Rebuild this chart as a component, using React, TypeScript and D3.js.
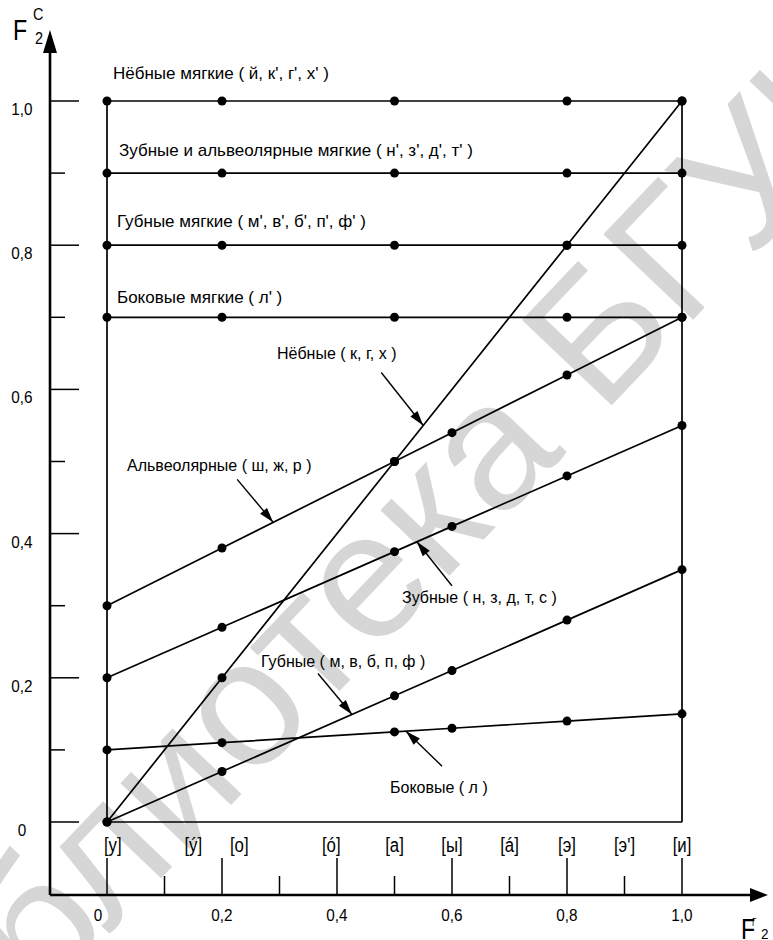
import React from 'react';
import * as d3 from 'd3';

// ---------- data ----------
const xTickValues = [0, 0.1, 0.2, 0.3, 0.4, 0.5, 0.6, 0.7, 0.8, 0.9, 1.0];
const xTickLabelValues = [0, 0.2, 0.4, 0.6, 0.8, 1.0];
const xTickLabels = ['0', '0,2', '0,4', '0,6', '0,8', '1,0'];
const yTickValues = [0, 0.1, 0.2, 0.3, 0.4, 0.5, 0.6, 0.7, 0.8, 0.9, 1.0];
const yTickLabelValues = [0, 0.2, 0.4, 0.6, 0.8, 1.0];
const yTickLabels = ['0', '0,2', '0,4', '0,6', '0,8', '1,0'];

const vowelLabels = ['[у]', '[ý]', '[о]', '[ó]', '[а]', '[ы]', '[á]', '[э]', "[э']", '[и]'];
const vowelPositions = [0.01, 0.15, 0.23, 0.39, 0.5, 0.6, 0.7, 0.8, 0.9, 1.0];

const softNames = [
  "Нёбные мягкие ( й, к', г', х' )",
  "Зубные и альвеолярные мягкие ( н', з', д', т' )",
  "Губные мягкие ( м', в', б', п', ф' )",
  "Боковые мягкие ( л' )",
];
const softLevels = [1.0, 0.9, 0.8, 0.7];
const softX = [0, 0.2, 0.5, 0.8, 1.0];

const hardNames = [
  'Нёбные ( к, г, х )',
  'Альвеолярные ( ш, ж, р )',
  'Зубные ( н, з, д, т, с )',
  'Губные ( м, в, б, п, ф )',
  'Боковые ( л )',
];
const hardX = [
  [0, 0.2, 0.5, 0.8, 1.0],
  [0, 0.2, 0.5, 0.6, 0.8, 1.0],
  [0, 0.2, 0.5, 0.6, 0.8, 1.0],
  [0, 0.2, 0.5, 0.6, 0.8, 1.0],
  [0, 0.2, 0.5, 0.6, 0.8, 1.0],
];
const hardY = [
  [0, 0.2, 0.5, 0.8, 1.0],
  [0.3, 0.38, 0.5, 0.54, 0.62, 0.7],
  [0.2, 0.27, 0.375, 0.41, 0.48, 0.55],
  [0, 0.07, 0.175, 0.21, 0.28, 0.35],
  [0.1, 0.11, 0.125, 0.13, 0.14, 0.15],
];
// x value on each series where the pointer arrow touches it
const pointerAt = [0.55, 0.289, 0.539, 0.426, 0.52];

const watermarkText = 'Библиотека БГУИР';

// ---------- layout ----------
const W = 773;
const H = 940;
const X0 = 107, X1 = 682, Y0 = 822, Y1 = 101;
const AXIS_X = 50;
const AXIS_Y = 895;
const FONT = "'Liberation Sans', Arial, sans-serif";

const softLabelPos = [
  { x: 113, y: 79 },
  { x: 119, y: 156 },
  { x: 117, y: 227 },
  { x: 117, y: 303 },
];
const hardLabelPos = [
  { x: 277, y: 359 },
  { x: 127, y: 471 },
  { x: 402, y: 603 },
  { x: 261, y: 667 },
  { x: 390, y: 793 },
];
const pointerTail = [
  { dx: -42, dy: -53 },
  { dx: -36, dy: -43 },
  { dx: 35, dy: 44 },
  { dx: -34, dy: -41 },
  { dx: 36, dy: 35 },
];

export default function App() {
  const x = d3.scaleLinear().domain([0, 1]).range([X0, X1]);
  const y = d3.scaleLinear().domain([0, 1]).range([Y0, Y1]);
  const line = d3.line<[number, number]>().x((d) => x(d[0])).y((d) => y(d[1]));

  const interp = (xs: number[], ys: number[], v: number) => {
    for (let i = 0; i < xs.length - 1; i++) {
      if (v >= xs[i] && v <= xs[i + 1]) {
        const t = (v - xs[i]) / (xs[i + 1] - xs[i]);
        return ys[i] + t * (ys[i + 1] - ys[i]);
      }
    }
    return ys[ys.length - 1];
  };

  const arrowHead = (tx: number, ty: number, fx: number, fy: number, len = 15, hw = 4.5) => {
    const ang = Math.atan2(ty - fy, tx - fx);
    const bx = tx - len * Math.cos(ang);
    const by = ty - len * Math.sin(ang);
    const px = -Math.sin(ang) * hw;
    const py = Math.cos(ang) * hw;
    return `M${tx},${ty}L${bx + px},${by + py}L${bx - px},${by - py}Z`;
  };

  const cond = (px: number, py: number, s: number) => `translate(${px},${py}) scale(${s},1)`;

  return (
    <svg
      width={W}
      height={H}
      style={{ position: 'absolute', left: 0, top: 0, background: '#fff' }}
      fontFamily={FONT}
    >
      <rect x={0} y={0} width={W} height={H} fill="#fff" />
      {/* watermark */}
      <text
        transform="translate(-108,1161) rotate(-46.4)"
        fontSize={180}
        fill="#d6d6d6"
        fontFamily={FONT}
      >
        {watermarkText}
      </text>

      {/* frame */}
      <line x1={x(0)} y1={y(0)} x2={x(0)} y2={y(1)} stroke="#000" strokeWidth={1.7} />
      <line x1={x(1)} y1={y(0)} x2={x(1)} y2={y(1)} stroke="#000" strokeWidth={1.7} />
      <line x1={x(0)} y1={y(0)} x2={x(1)} y2={y(0)} stroke="#000" strokeWidth={1.7} />

      {/* y axis */}
      <line x1={AXIS_X} y1={AXIS_Y} x2={AXIS_X} y2={50} stroke="#000" strokeWidth={2.6} />
      <path d={`M${AXIS_X},30L${AXIS_X - 7},53L${AXIS_X + 7},53Z`} fill="#000" />
      {yTickValues.map((v, i) => {
        const major = Math.round(v * 10) % 2 === 0;
        return (
          <line key={'yt' + i} x1={AXIS_X} x2={AXIS_X + (major ? 29 : 15)} y1={y(v)} y2={y(v)} stroke="#000" strokeWidth={1.5} />
        );
      })}
      {yTickLabelValues.map((v, i) => (
        <text key={'yl' + i} transform={cond(22, y(v) + 14, 0.9)} fontSize={17} textAnchor="middle" fill="#000">
          {yTickLabels[i]}
        </text>
      ))}
      <text transform={cond(13, 40, 0.8)} fontSize={29} fill="#000">F</text>
      <text transform={cond(33, 20, 0.9)} fontSize={16} fill="#000">C</text>
      <text transform={cond(35, 44, 0.9)} fontSize={16} fill="#000">2</text>

      {/* x axis */}
      <line x1={AXIS_X} y1={AXIS_Y} x2={752} y2={AXIS_Y} stroke="#000" strokeWidth={2.6} />
      <path d={`M768,${AXIS_Y}L750,${AXIS_Y - 7}L750,${AXIS_Y + 7}Z`} fill="#000" />
      {xTickValues.map((v, i) => {
        const major = Math.round(v * 10) % 2 === 0;
        return (
          <line key={'xt' + i} x1={x(v)} x2={x(v)} y1={AXIS_Y} y2={AXIS_Y - (major ? 37 : 19)} stroke="#000" strokeWidth={1.5} />
        );
      })}
      {xTickLabelValues.map((v, i) => (
        <text key={'xl' + i} transform={cond(x(v) + (v === 0 ? -9 : 0), 921, 0.9)} fontSize={17} textAnchor="middle" fill="#000">
          {xTickLabels[i]}
        </text>
      ))}
      <text transform={cond(741, 939, 0.8)} fontSize={29} fill="#000">F</text>
      <text transform={cond(752, 926, 0.8)} fontSize={10} fill="#000">Г</text>
      <text transform={cond(761, 939, 0.9)} fontSize={15} fill="#000">2</text>

      {/* vowel labels */}
      {vowelLabels.map((s, i) => {
        const cx = x(vowelPositions[i]);
        return (
          <text key={'v' + i} transform={cond(cx, 852, 0.8)} fontSize={21} textAnchor="middle" fill="#000">
            {s}
          </text>
        );
      })}

      {/* soft consonant lines */}
      {softLevels.map((lv, i) => (
        <g key={'s' + i}>
          <path d={line(softX.map((v) => [v, lv]) as [number, number][]) || ''} fill="none" stroke="#000" strokeWidth={1.7} />
          {softX.map((v, j) => (
            <circle key={j} cx={x(v)} cy={y(lv)} r={4.5} fill="#000" />
          ))}
          <text x={softLabelPos[i].x} y={softLabelPos[i].y} fontSize={17} fill="#000">
            {softNames[i]}
          </text>
        </g>
      ))}

      {/* hard consonant lines */}
      {hardX.map((xs, i) => {
        const pts = xs.map((v, j) => [v, hardY[i][j]] as [number, number]);
        const pv = pointerAt[i];
        const tx = x(pv);
        const ty = y(interp(xs, hardY[i], pv));
        const fx = tx + pointerTail[i].dx;
        const fy = ty + pointerTail[i].dy;
        return (
          <g key={'h' + i}>
            <path d={line(pts) || ''} fill="none" stroke="#000" strokeWidth={1.7} />
            {pts.map((p, j) => (
              <circle key={j} cx={x(p[0])} cy={y(p[1])} r={4.5} fill="#000" />
            ))}
            <line x1={fx} y1={fy} x2={tx} y2={ty} stroke="#000" strokeWidth={1.4} />
            <path d={arrowHead(tx, ty, fx, fy)} fill="#000" />
            <text x={hardLabelPos[i].x} y={hardLabelPos[i].y} fontSize={16} fill="#000">
              {hardNames[i]}
            </text>
          </g>
        );
      })}
    </svg>
  );
}
